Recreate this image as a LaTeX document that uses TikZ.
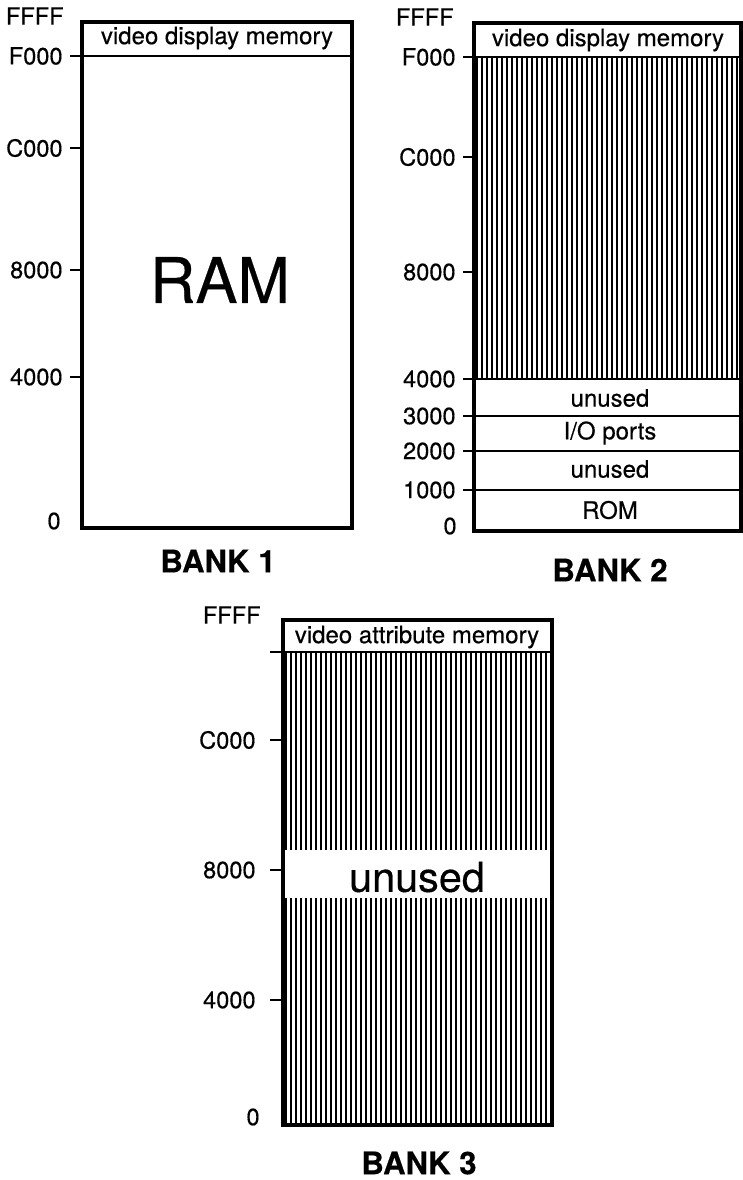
\documentclass[tikz,border=0pt]{standalone}
\usepackage{fontspec}
\setmainfont{TeX Gyre Heros}[FakeBold=0.4]
\usetikzlibrary{positioning}

\begin{document}
\begin{tikzpicture}[x=0.5pt, y=-0.5pt,
  addr/.style={font=\fontsize{11.8}{12}\selectfont, anchor=east, inner sep=0pt},
  region/.style={font=\fontsize{12}{13}\selectfont, inner sep=0pt},
  banklabel/.style={font=\fontsize{15.6}{16}\selectfont\bfseries, inner sep=0pt},
  frame/.style={line width=1.8pt},
  divider/.style={line width=1.1pt},
  addrtick/.style={line width=1.2pt},
  hatch/.style={line width=1pt}]
  \useasboundingbox (0,0) rectangle (743,1180);

  % Bank 1 — plain RAM
  \draw[frame] (82,22) rectangle (352,528);
  \draw[divider] (82,56) -- (352,56);
  \node[region] (b1vid) at (217,38) {video display memory};
  \node[font=\fontsize{31.5}{32}\selectfont, inner sep=0pt] (b1ram) at (220,280) {RAM};
  \node[addr] (b1FFFF) at (64,16) {FFFF};
  \foreach \ya/\lab in {56/F000,148/C000,270/8000,377/4000} {
    \draw[addrtick] (70,\ya) -- (82,\ya);
    \node[addr] (b1\lab) at (63,\ya) {\lab};
  }
  \node[addr] (b1zero) at (61,521) {0};
  \node[banklabel] (bank1) at (218,561) {BANK 1};

  % Bank 2 — ROM and I/O below 4000
  \foreach \hx in {477,482,...,739}
    \draw[hatch] (\hx,57) -- (\hx,379);
  \draw[frame] (474,23) rectangle (741,531);
  \foreach \yd in {57,379,416,451,490}
    \draw[divider] (474,\yd) -- (741,\yd);
  \node[region] (b2vid) at (608,40) {video display memory};
  \node[region] (b2unA) at (610,398) {unused};
  \node[region] (b2io) at (610,433) {I/O ports};
  \node[region] (b2unB) at (610,469) {unused};
  \node[region] (b2rom) at (610,510) {ROM};
  \node[addr] (b2FFFF) at (454,17) {FFFF};
  \foreach \ya/\lab in {57/F000,157/C000,272/8000,379/4000,416/3000,451/2000,490/1000} {
    \draw[addrtick] (463,\ya) -- (474,\ya);
    \node[addr] (b2\lab) at (456,\ya) {\lab};
  }
  \node[addr] (b2zero) at (457,526) {0};
  \node[banklabel] (bank2) at (610,570) {BANK 2};

  % Bank 3 — attribute memory
  \foreach \hx in {286,291,...,550} {
    \draw[hatch] (\hx,652) -- (\hx,850);
    \draw[hatch] (\hx,898) -- (\hx,1125);
  }
  \draw[frame] (283,620) rectangle (552,1125);
  \draw[divider] (283,652) -- (552,652);
  \node[region] (b3attr) at (417,637) {video attribute memory};
  \node[font=\fontsize{20.7}{21}\selectfont, inner sep=0pt] (b3unused) at (417,877) {unused};
  \node[addr] (b3FFFF) at (261,615) {FFFF};
  \draw[addrtick] (270,652) -- (283,652);
  \foreach \ya/\lab in {740/C000,870/8000,1000/4000} {
    \draw[addrtick] (270,\ya) -- (283,\ya);
    \node[addr] (b3\lab) at (256,\ya) {\lab};
  }
  \node[addr] (b3zero) at (260,1117) {0};
  \node[banklabel] (bank3) at (419,1163) {BANK 3};

\end{tikzpicture}
\end{document}
